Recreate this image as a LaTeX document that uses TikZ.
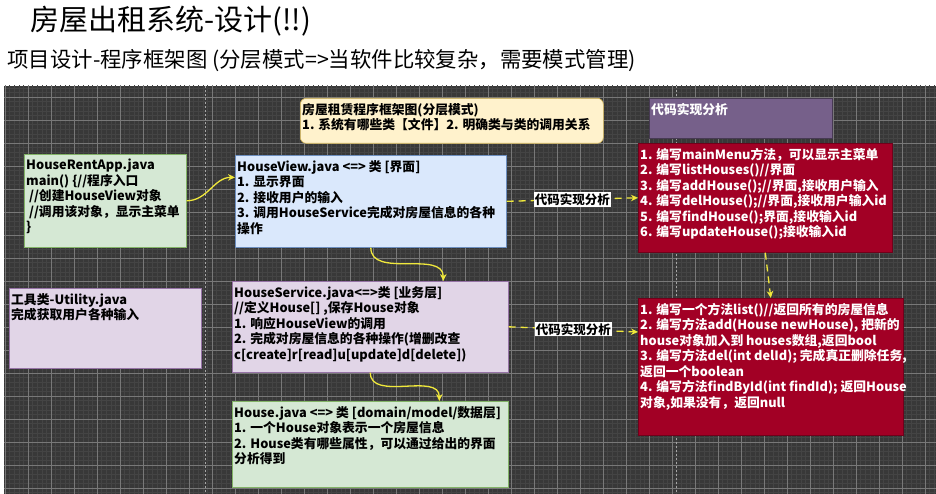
\documentclass[tikz,border=0pt]{standalone}
\usepackage{fontspec}
\setmainfont{Noto Sans CJK SC}
\usetikzlibrary{arrows.meta, calc}
\definecolor{HRCanvas}{RGB}{56,56,56}
\definecolor{HRGridMinor}{RGB}{68,68,68}
\definecolor{HRGridMajor}{RGB}{120,120,120}
\definecolor{HRGreen}{RGB}{213,232,212}
\definecolor{HRGreenLine}{RGB}{130,179,102}
\definecolor{HRBlue}{RGB}{218,232,252}
\definecolor{HRBlueLine}{RGB}{108,142,191}
\definecolor{HRLilac}{RGB}{225,213,231}
\definecolor{HRLilacLine}{RGB}{150,115,166}
\definecolor{HRNote}{RGB}{255,242,204}
\definecolor{HRNoteLine}{RGB}{214,182,86}
\definecolor{HRPurple}{RGB}{118,96,138}
\definecolor{HRRed}{RGB}{162,0,37}
\definecolor{HRYellow}{RGB}{240,232,60}
\newcommand{\boxfont}{\fontsize{12.8}{15.5}\selectfont\bfseries}

\begin{document}
\begin{tikzpicture}[
    x=1pt, y=-1pt,
    box/.style={rectangle, anchor=north west, inner sep=0pt, line width=0.6pt},
    txt/.style={anchor=north west, align=left, inner xsep=2pt, inner ysep=5pt, font=\boxfont},
    arr/.style={-{Stealth[length=7pt, width=6.5pt]}, HRYellow, line width=1.3pt},
    darr/.style={arr, dash pattern=on 7pt off 5pt},
    tag/.style={fill=white, text=black, inner sep=1pt, font=\fontsize{12.5}{14}\selectfont\bfseries}
  ]
  \useasboundingbox (0,0) rectangle (936,494);
  \fill[white] (0,0) rectangle (936,494);

  \node[anchor=base west, font=\fontsize{29}{32}\selectfont] (title) at (27,31) {房屋出租系统-设计(!!)};
  \node[anchor=base west, font=\fontsize{21.4}{25}\selectfont] (subtitle) at (4,68) {项目设计-程序框架图 (分层模式=>当软件比较复杂，需要模式管理)};

  % canvas with grid
  \fill[HRCanvas] (4,86) rectangle (936,494);
  \begin{scope}
    \clip (4,86) rectangle (936,494);
    \begin{scope}[shift={(5,5)}]
      \draw[HRGridMinor, line width=0.4pt, step=4.6pt] (-10,75) grid (940,495);
      \draw[HRGridMajor, line width=0.6pt, step=23pt] (-10,75) grid (940,495);
    \end{scope}
    \draw[gray!70, line width=0.6pt, dash pattern=on 2pt off 2pt] (205,86) -- (205,494);
    \draw[gray!70, line width=0.6pt, dash pattern=on 2pt off 2pt] (676,86) -- (676,494);
  \end{scope}

  \node[box, draw=HRGreenLine, fill=HRGreen, minimum width=162, minimum height=93] (app) at (24,154) {};
  \node[txt] (app-t) at (app.north west) {HouseRentApp.java\\main() \{//程序入口\\\ //创建HouseView对象\\\ //调用该对象，显示主菜单\\\}};

  \node[box, draw=HRNoteLine, fill=HRNote, rounded corners=6pt, minimum width=303, minimum height=45] (note) at (300,98) {};
  \node[txt] (note-t) at (note.north west) {房屋租赁程序框架图(分层模式)\\1. 系统有哪些类【文件】2. 明确类与类的调用关系};

  \node[box, draw=HRBlueLine, fill=HRBlue, minimum width=271, minimum height=92] (view) at (235,155) {};
  \node[txt] (view-t) at (view.north west) {HouseView.java <=> 类 [界面]\\1. 显示界面\\2. 接收用户的输入\\3. 调用HouseService完成对房屋信息的各种\\操作};

  \node[box, draw=HRPurple!60!black, fill=HRPurple, minimum width=183, minimum height=40] (impl) at (649,98) {};
  \node[txt, text=white] (impl-t) at (impl.north west) {代码实现分析};

  \node[box, draw=HRRed!70!black, fill=HRRed, minimum width=254, minimum height=109] (menu) at (638,143) {};
  \node[txt, text=white] (menu-t) at (menu.north west) {1. 编写mainMenu方法，可以显示主菜单\\2. 编写listHouses()//界面\\3. 编写addHouse();//界面,接收用户输入\\4. 编写delHouse();//界面,接收用户输入id\\5. 编写findHouse();界面,接收输入id\\6. 编写updateHouse();接收输入id};

  \node[box, draw=HRLilacLine, fill=HRLilac, minimum width=192, minimum height=80] (util) at (9,288) {};
  \node[txt] (util-t) at (util.north west) {工具类-Utility.java\\完成获取用户各种输入};

  \node[box, draw=HRLilacLine, fill=HRLilac, minimum width=276, minimum height=91] (service) at (232,281) {};
  \node[txt] (service-t) at (service.north west) {HouseService.java<=>类 [业务层]\\//定义House[] ,保存House对象\\1. 响应HouseView的调用\\2. 完成对房屋信息的各种操作(增删改查\\c[create]r[read]u[update]d[delete])};

  \node[box, draw=HRGreenLine, fill=HRGreen, minimum width=276, minimum height=86] (house) at (232,401) {};
  \node[txt] (house-t) at (house.north west) {House.java <=> 类 [domain/model/数据层]\\1. 一个House对象表示一个房屋信息\\2. House类有哪些属性，可以通过给出的界面\\分析得到};

  \node[box, draw=HRRed!70!black, fill=HRRed, minimum width=265, minimum height=137] (store) at (638,298) {};
  \node[txt, text=white] (store-t) at (store.north west) {1. 编写一个方法list()//返回所有的房屋信息\\2. 编写方法add(House newHouse), 把新的\\house对象加入到 houses数组,返回bool\\3. 编写方法del(int delId); 完成真正删除任务,\\返回一个boolean\\4. 编写方法findById(int findId); 返回House\\对象,如果没有，返回null};

  \draw[arr] (app.east) to[out=0, in=180] (view.170);
  \draw[arr] (view.south) to[out=-90, in=90] ($(service.north)+(73,0)$);
  \draw[arr] (service.south) to[out=-90, in=90] ($(house.north)+(69,0)$);
  \draw[darr] (view.east) -- node[tag] (tag1) {代码实现分析} (menu.west);
  \draw[darr] (service.east) -- node[tag] (tag2) {代码实现分析} ($(store.north west)+(0,34)$);
  \draw[darr] (menu.south) -- (store.north);
\end{tikzpicture}
\end{document}
